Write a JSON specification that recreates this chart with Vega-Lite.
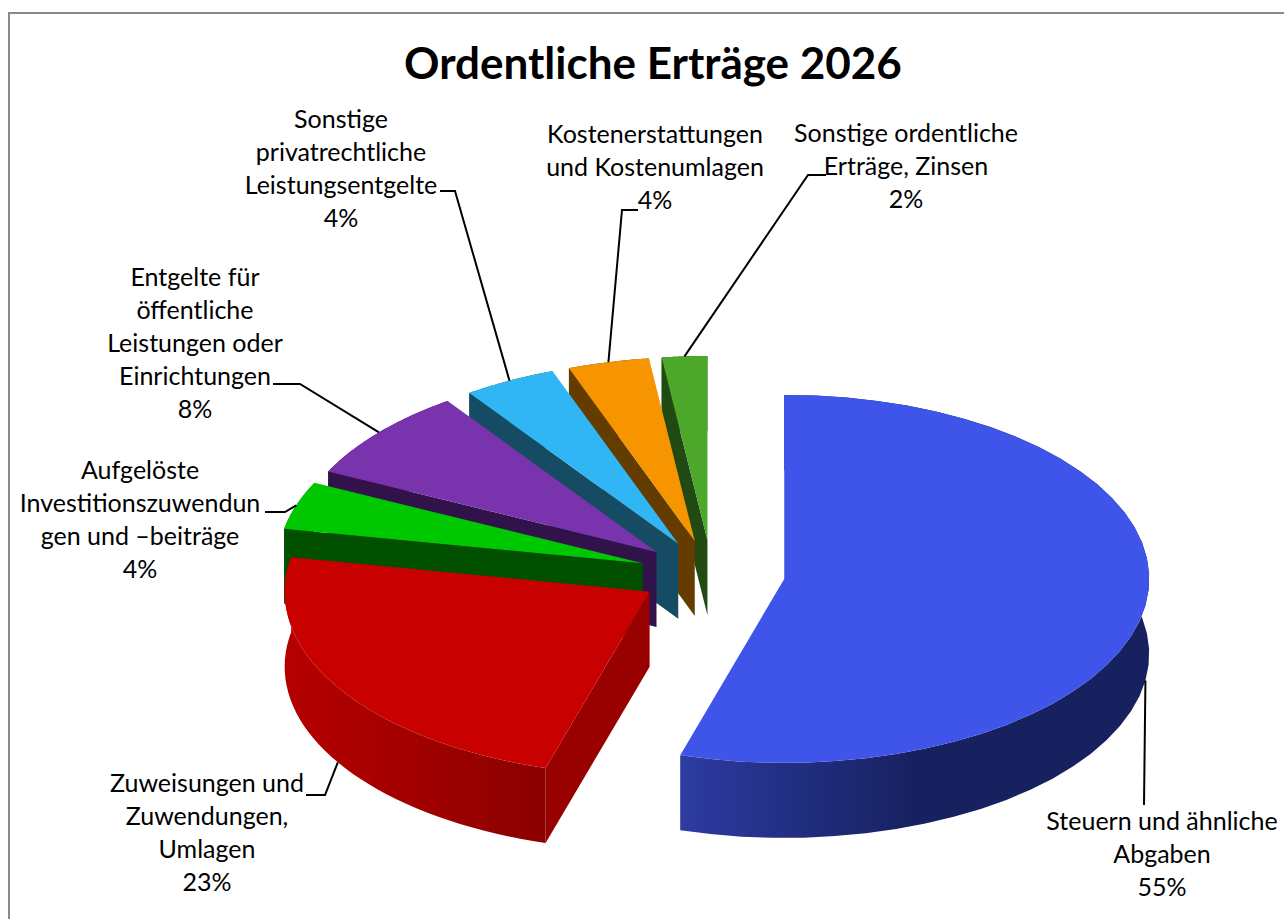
{
"$schema":"https://vega.github.io/schema/vega-lite/v6.json",
"width":1285,"height":916,"padding":{"left":9,"top":13,"right":0,"bottom":0},"autosize":{"type":"none"},
"background":"white",
"view":{"stroke":"#8a8a8a","strokeWidth":2,"fill":"white"},
"title":{"text":"Ordentliche Erträge 2026","font":"Lato","fontSize":44,"fontWeight":"bold","color":"#000000","anchor":"start","frame":"group","dx":395,"dy":75,"offset":0},
"params":[{"name":"cx","value":712},{"name":"cy","value":574},{"name":"rx","value":365},{"name":"ry","value":184},{"name":"depth","value":75},{"name":"explodeX","value":0.2},{"name":"explodeY","value":0.185}],
"data":{"values":[
{"name":"Sonstige ordentliche\nErträge, Zinsen","share":2.0},
{"name":"Kostenerstattungen\nund Kostenumlagen","share":3.6},
{"name":"Sonstige\nprivatrechtliche\nLeistungsentgelte","share":4.1},
{"name":"Entgelte für\nöffentliche\nLeistungen oder\nEinrichtungen","share":8.1},
{"name":"Aufgelöste\nInvestitionszuwendun\ngen und –beiträge","share":4.2},
{"name":"Zuweisungen und\nZuwendungen,\nUmlagen","share":23.4},
{"name":"Steuern und ähnliche\nAbgaben","share":54.6}
]},
"transform":[
{"window":[{"op":"sum","field":"share","as":"cum"},{"op":"row_number","as":"n"}]},
{"calculate":"(100-datum.cum)*PI/50","as":"a0"},
{"calculate":"datum.a0+datum.share*PI/50","as":"a1"},
{"calculate":"(datum.a0+datum.a1)/2","as":"mid"},
{"calculate":"cx+explodeX*rx*sin(datum.mid)","as":"ax"},
{"calculate":"cy-explodeY*ry*cos(datum.mid)","as":"ay"}
],
"encoding":{
"x":{"field":"px","type":"quantitative","scale":{"domain":[9,1294]},"axis":null},
"y":{"field":"py","type":"quantitative","scale":{"domain":[929,13]},"axis":null}
},
"layer":[
{"transform":[{"filter":"datum.n<6"},
{"calculate":"sequence(0,82)","as":"pts"},{"flatten":["pts"],"as":["t"]},
{"calculate":"datum.a0+(datum.a1-datum.a0)*(datum.t<=40?datum.t:81-datum.t)/40","as":"a"},
{"calculate":"datum.ax+rx*sin(datum.a)","as":"px"},
{"calculate":"datum.ay-ry*cos(datum.a)+(datum.t>40?depth:0)","as":"py"}],
"mark":{"type":"line","interpolate":"linear-closed","strokeWidth":0},
"encoding":{"order":{"field":"t"},"fill":{"field":"name","type":"nominal","legend":null,"sort":null,"scale":{"domain":["Sonstige ordentliche\nErträge, Zinsen","Kostenerstattungen\nund Kostenumlagen","Sonstige\nprivatrechtliche\nLeistungsentgelte","Entgelte für\nöffentliche\nLeistungen oder\nEinrichtungen","Aufgelöste\nInvestitionszuwendun\ngen und –beiträge"],"range":["#214a12","#653c00","#164c63","#32124a","#005000"]}}}},
{"transform":[
{"calculate":"[0,1,2,3]","as":"pts"},{"flatten":["pts"],"as":["t"]},
{"calculate":"(datum.t==1||datum.t==2)?datum.ax+rx*sin(datum.a0):datum.ax","as":"px"},
{"calculate":"(datum.t==1||datum.t==2?datum.ay-ry*cos(datum.a0):datum.ay)+(datum.t>=2?depth:0)","as":"py"}],
"mark":{"type":"line","interpolate":"linear-closed","strokeWidth":0},
"encoding":{"order":{"field":"t"},"fill":{"field":"name","type":"nominal","legend":null,"sort":null,"scale":{"domain":["Sonstige ordentliche\nErträge, Zinsen","Kostenerstattungen\nund Kostenumlagen","Sonstige\nprivatrechtliche\nLeistungsentgelte","Entgelte für\nöffentliche\nLeistungen oder\nEinrichtungen","Aufgelöste\nInvestitionszuwendun\ngen und –beiträge","Zuweisungen und\nZuwendungen,\nUmlagen","Steuern und ähnliche\nAbgaben"],"range":["#214a12","#653c00","#164c63","#32124a","#005000","#990000","#18215f"]}}}},
{"transform":[{"filter":"datum.n==6"},
{"calculate":"sequence(0,82)","as":"pts"},{"flatten":["pts"],"as":["t"]},
{"calculate":"datum.a0+(datum.a1-datum.a0)*(datum.t<=40?datum.t:81-datum.t)/40","as":"a"},
{"calculate":"datum.ax+rx*sin(datum.a)","as":"px"},
{"calculate":"datum.ay-ry*cos(datum.a)+(datum.t>40?depth:0)","as":"py"}],
"mark":{"type":"line","interpolate":"linear-closed","strokeWidth":0,"fill":{"gradient":"linear","x1":0,"x2":1,"y1":0,"y2":0,"stops":[{"offset":0,"color":"#b50000"},{"offset":0.5,"color":"#a20000"},{"offset":1,"color":"#8a0000"}]}},
"encoding":{"order":{"field":"t"}}},
{"transform":[{"filter":"datum.n==7"},
{"calculate":"sequence(0,82)","as":"pts"},{"flatten":["pts"],"as":["t"]},
{"calculate":"datum.a0+(datum.a1-datum.a0)*(datum.t<=40?datum.t:81-datum.t)/40","as":"a"},
{"calculate":"datum.ax+rx*sin(datum.a)","as":"px"},
{"calculate":"datum.ay-ry*cos(datum.a)+(datum.t>40?depth:0)","as":"py"}],
"mark":{"type":"line","interpolate":"linear-closed","strokeWidth":0,"fill":{"gradient":"linear","x1":0,"x2":1,"y1":0,"y2":0,"stops":[{"offset":0,"color":"#2e3ba2"},{"offset":0.3,"color":"#1f2b7a"},{"offset":0.5,"color":"#18215f"},{"offset":1,"color":"#18215f"}]}},
"encoding":{"order":{"field":"t"}}},
{"transform":[
{"calculate":"sequence(0,42)","as":"pts"},{"flatten":["pts"],"as":["t"]},
{"calculate":"datum.a0+(datum.a1-datum.a0)*(datum.t-1)/40","as":"a"},
{"calculate":"datum.t==0?datum.ax:datum.ax+rx*sin(datum.a)","as":"px"},
{"calculate":"datum.t==0?datum.ay:datum.ay-ry*cos(datum.a)","as":"py"}],
"mark":{"type":"line","interpolate":"linear-closed","strokeWidth":0},
"encoding":{"order":{"field":"t"},"fill":{"field":"name","type":"nominal","legend":null,"sort":null,"scale":{"domain":["Sonstige ordentliche\nErträge, Zinsen","Kostenerstattungen\nund Kostenumlagen","Sonstige\nprivatrechtliche\nLeistungsentgelte","Entgelte für\nöffentliche\nLeistungen oder\nEinrichtungen","Aufgelöste\nInvestitionszuwendun\ngen und –beiträge","Zuweisungen und\nZuwendungen,\nUmlagen","Steuern und ähnliche\nAbgaben"],"range":["#4ca72a","#f79500","#31b6f5","#7833ad","#00c800","#c80000","#3f55ea"]}}}},
{"transform":[
{"calculate":"[0,1,2]","as":"pts"},{"flatten":["pts"],"as":["t"]},
{"calculate":"[0,808,622,455,300,285,325,1144][datum.n]","as":"ex"},
{"calculate":"[0,175,210,191,384,512,795,805][datum.n]","as":"ey"},
{"calculate":"[0,826,638,440,273,265,306,1144][datum.n]","as":"hx"},
{"calculate":"datum.t==0?datum.ax+rx*sin(datum.mid):(datum.t==1?datum.ex:datum.hx)","as":"px"},
{"calculate":"datum.t==0?datum.ay-ry*cos(datum.mid)+(cos(datum.mid)<0?depth:0):datum.ey","as":"py"}],
"mark":{"type":"line","color":"#000000","strokeWidth":2},
"encoding":{"order":{"field":"t"},"detail":{"field":"name"}}},
{"transform":[
{"calculate":"[0,906,655,341,195,140,207,1162][datum.n]","as":"px"},
{"calculate":"[0,122,123,108,266,459,772,810][datum.n]","as":"py"},
{"calculate":"datum.name+'\\n'+round(datum.share)+'%'","as":"label"}],
"mark":{"type":"text","font":"Lato","fontSize":25,"lineHeight":33,"lineBreak":"\n","align":"center","baseline":"top","color":"#000000"},
"encoding":{"text":{"field":"label"}}}
],
"resolve":{"scale":{"fill":"independent"}}
}
